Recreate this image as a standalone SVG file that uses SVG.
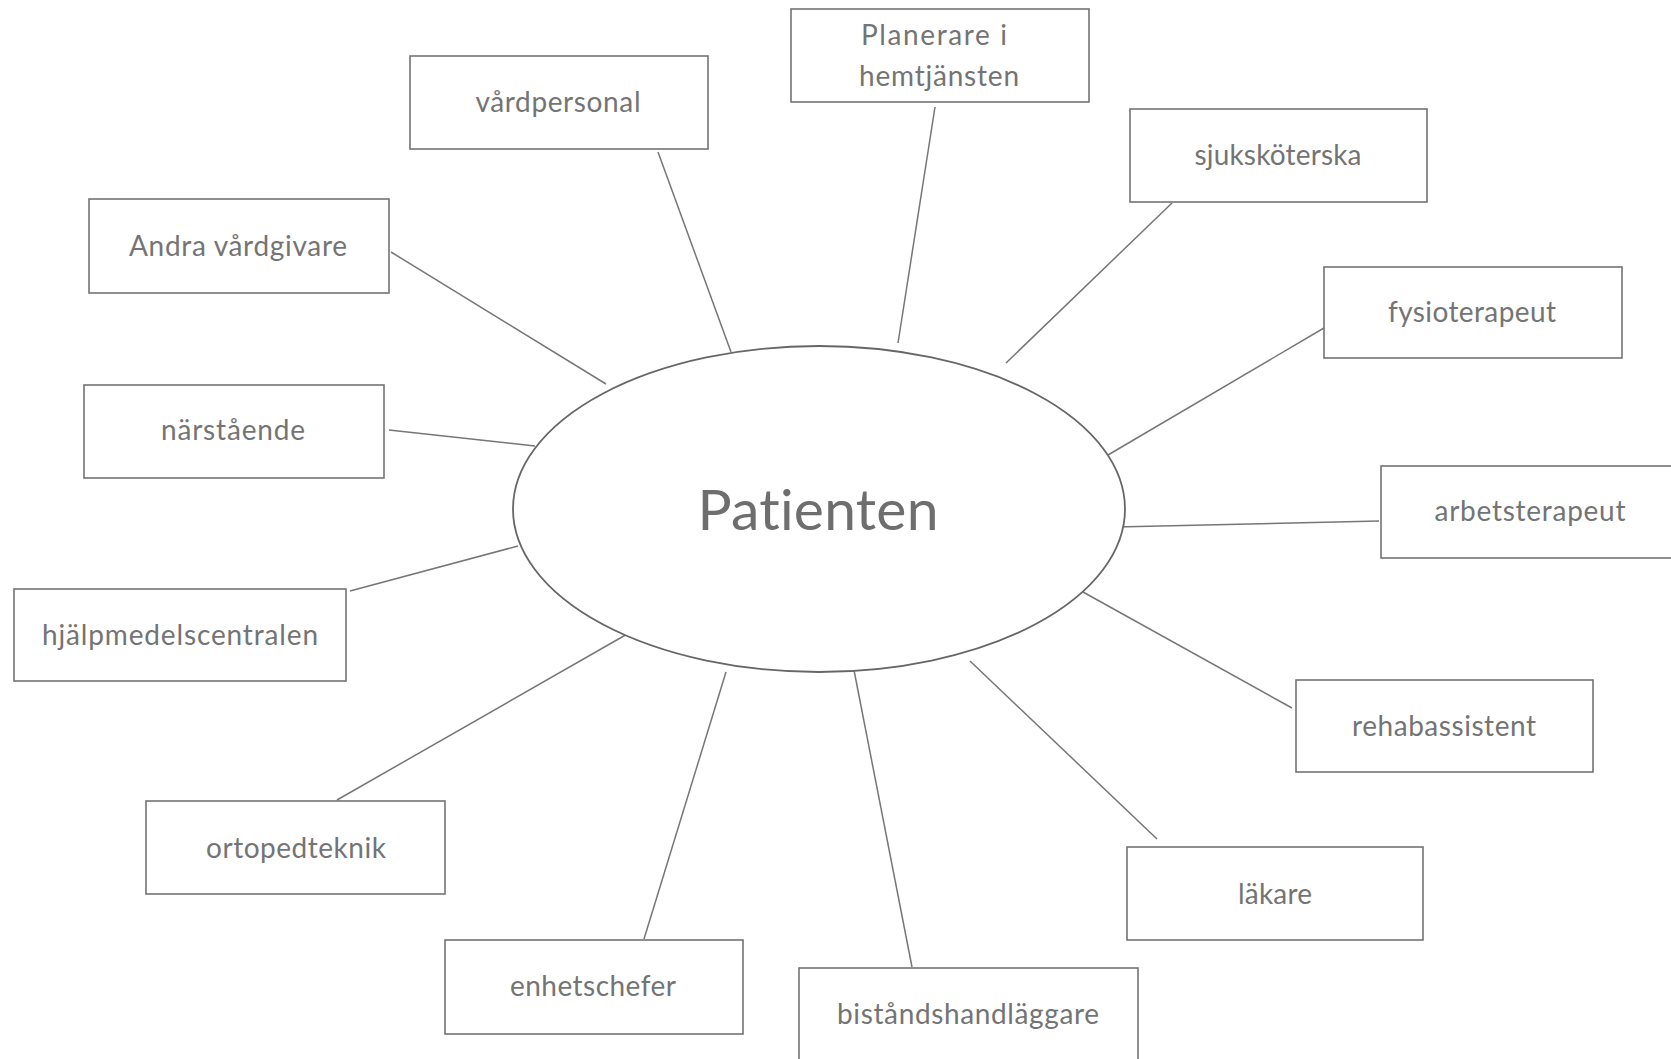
<svg xmlns="http://www.w3.org/2000/svg" width="1671" height="1059" viewBox="0 0 1671 1059">
<style>
.box{fill:#fff;stroke:#737373;stroke-width:1.6}
.lbl{font-family:Lato,"Open Sans","Liberation Sans",sans-serif;font-size:28px;fill:#747474;text-anchor:middle;font-variant-ligatures:none}
.con line{stroke:#767676;stroke-width:1.5}
.ell{fill:#fff;stroke:#666;stroke-width:1.8}
.big{font-family:Lato,"Open Sans","Liberation Sans",sans-serif;font-size:57px;fill:#6e6e6e;text-anchor:middle;font-variant-ligatures:none}
</style>
<rect width="1671" height="1059" fill="#fff"/>
<g id="connectors" class="con">
<line x1="658" y1="152" x2="731" y2="352"/>
<line x1="935" y1="107" x2="898" y2="343"/>
<line x1="1172" y1="203" x2="1006" y2="363"/>
<line x1="1324" y1="328" x2="1108" y2="455"/>
<line x1="1379" y1="521" x2="1116" y2="527"/>
<line x1="1083" y1="592" x2="1292" y2="708"/>
<line x1="970" y1="661" x2="1157" y2="839"/>
<line x1="853" y1="665" x2="912" y2="967"/>
<line x1="726" y1="672" x2="644" y2="939"/>
<line x1="629" y1="633" x2="337" y2="800"/>
<line x1="518" y1="546" x2="350" y2="591"/>
<line x1="389" y1="430" x2="535" y2="446"/>
<line x1="391" y1="252" x2="606" y2="384"/>
</g>
<g id="patienten">
<ellipse class="ell" cx="819" cy="509" rx="306" ry="163"/>
<text class="big" x="818" y="530" textLength="241">Patienten</text>
</g>
<g id="vardpersonal"><rect class="box" x="410" y="56" width="298" height="93"/><text class="lbl" x="558" y="112" textLength="165">vårdpersonal</text></g>
<g id="planerare"><rect class="box" x="791" y="9" width="298" height="93"/><text class="lbl" x="934" y="45" textLength="146">Planerare i</text><text class="lbl" x="939" y="86" textLength="160">hemtjänsten</text></g>
<g id="sjukskoterska"><rect class="box" x="1130" y="109" width="297" height="93"/><text class="lbl" x="1278" y="165" textLength="167">sjuksköterska</text></g>
<g id="fysioterapeut"><rect class="box" x="1324" y="267" width="298" height="91"/><text class="lbl" x="1472" y="322" textLength="168">fysioterapeut</text></g>
<g id="arbetsterapeut"><rect class="box" x="1381" y="466" width="300" height="92"/><text class="lbl" x="1530" y="521" textLength="191">arbetsterapeut</text></g>
<g id="rehabassistent"><rect class="box" x="1296" y="680" width="297" height="92"/><text class="lbl" x="1444" y="736" textLength="184">rehabassistent</text></g>
<g id="lakare"><rect class="box" x="1127" y="847" width="296" height="93"/><text class="lbl" x="1275" y="904" textLength="74">läkare</text></g>
<g id="bistandshandlaggare"><rect class="box" x="799" y="968" width="339" height="95"/><text class="lbl" x="968" y="1024" textLength="262">biståndshandläggare</text></g>
<g id="enhetschefer"><rect class="box" x="445" y="940" width="298" height="94"/><text class="lbl" x="593" y="996" textLength="166">enhetschefer</text></g>
<g id="ortopedteknik"><rect class="box" x="146" y="801" width="299" height="93"/><text class="lbl" x="296" y="858" textLength="180">ortopedteknik</text></g>
<g id="hjalpmedelscentralen"><rect class="box" x="14" y="589" width="332" height="92"/><text class="lbl" x="180" y="645" textLength="276">hjälpmedelscentralen</text></g>
<g id="narstaende"><rect class="box" x="84" y="385" width="300" height="93"/><text class="lbl" x="233" y="440" textLength="144">närstående</text></g>
<g id="andra"><rect class="box" x="89" y="199" width="300" height="94"/><text class="lbl" x="238" y="256" textLength="218">Andra vårdgivare</text></g>
</svg>
